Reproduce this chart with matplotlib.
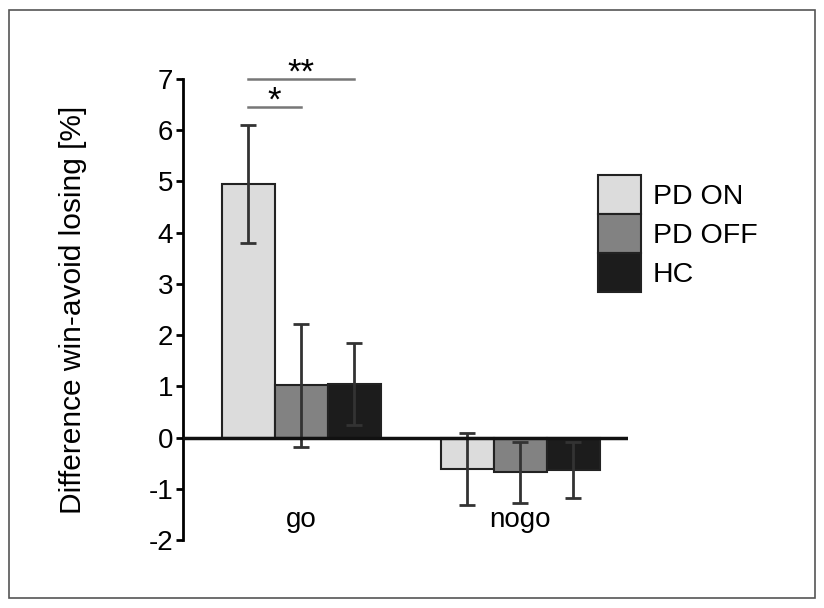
import numpy as np
import matplotlib.pyplot as plt
from matplotlib.patches import Rectangle

plt.rcParams['font.family'] = ['Liberation Sans', 'DejaVu Sans']
plt.rcParams['axes.unicode_minus'] = False

# data
conditions = ["go", "nogo"]
groups = ["PD ON", "PD OFF", "HC"]
colors = ["#dcdcdc", "#828282", "#1c1c1c"]
means = {
    "PD ON": [4.95, -0.62],
    "PD OFF": [1.02, -0.68],
    "HC": [1.05, -0.63],
}
errors = {
    "PD ON": [1.15, 0.70],
    "PD OFF": [1.20, 0.60],
    "HC": [0.80, 0.55],
}
# significance bars within "go": (group a, group b, height, label)
sig = [(0, 1, 6.45, "*"), (0, 2, 7.0, "**")]

fig = plt.figure(figsize=(8.24, 6.08), dpi=100)
fig.patches.append(Rectangle((9 / 824, 10 / 608), 806 / 824, 588 / 608,
                             transform=fig.transFigure, fill=False,
                             edgecolor="#555555", linewidth=1.2))

ax = fig.add_axes([183 / 824, 68 / 608, (628 - 183) / 824, (540 - 79) / 608])

x = np.arange(len(conditions))
width = 0.242
for i, g in enumerate(groups):
    ax.bar(x + (i - 1) * width, means[g], width, color=colors[i],
           edgecolor="#222222", linewidth=1.5, zorder=2)
    ax.errorbar(x + (i - 1) * width, means[g], yerr=errors[g], fmt="none",
                ecolor="#333333", elinewidth=2, capsize=6, capthick=2, zorder=3)

ax.axhline(0, color="#111111", linewidth=2.5, zorder=4)

# significance lines from bar centre to bar centre
for a, b, h, lab in sig:
    xa = x[0] + (a - 1) * width
    xb = x[0] + (b - 1) * width
    ax.plot([xa, xb], [h, h], color="#777777", linewidth=1.8, clip_on=False)
    ax.text((xa + xb) / 2, h - 0.2, lab, ha="center", va="bottom",
            fontsize=25, clip_on=False)

ax.set_xlim(-0.539, 1.493)
ax.set_ylim(-2, 7)
ax.set_yticks(range(-2, 8))
ax.set_xticks([])
for xi, c in zip(x, conditions):
    ax.text(xi, -1.6, c, ha="center", va="center", fontsize=20)
ax.tick_params(axis="y", length=5, width=2, labelsize=20, pad=2)
for s in ["top", "right", "bottom"]:
    ax.spines[s].set_visible(False)
ax.spines["left"].set_linewidth(2)
ax.set_ylabel("Difference win-avoid losing [%]", fontsize=21.5, labelpad=44)

handles = [Rectangle((0, 0), 1, 1, facecolor=c, edgecolor="#222222", linewidth=1.5)
           for c in colors]
ax.legend(handles, groups, loc="upper left",
          bbox_to_anchor=(598 / 824, 1 - 175 / 608), bbox_transform=fig.transFigure,
          frameon=False, fontsize=20.5, handlelength=1.5, handleheight=1.73,
          labelspacing=0, borderpad=0, borderaxespad=0, handletextpad=0.43)

fig.savefig("out.png", dpi=100)
